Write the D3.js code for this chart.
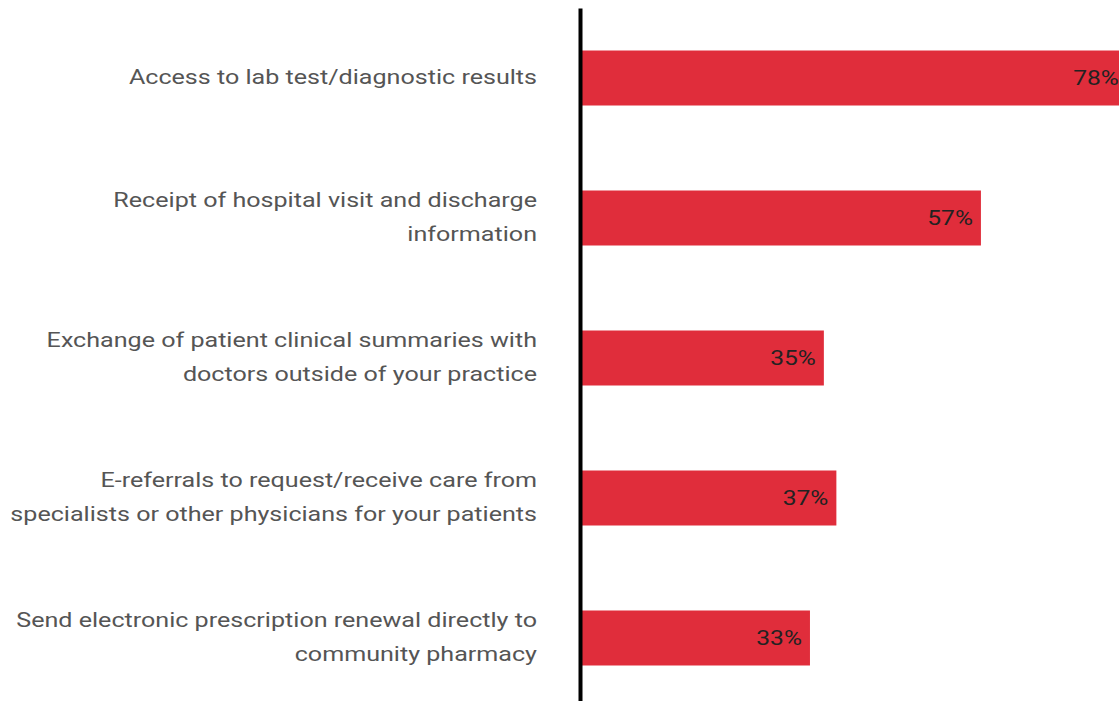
<!DOCTYPE html>
<html>
<head>
<meta charset="utf-8">
<script src="https://cdn.jsdelivr.net/npm/d3@7"></script>
<style>
  html, body { margin: 0; padding: 0; background: #fff; }
  svg { display: block; font-family: Roboto, "Noto Sans", sans-serif; }
</style>
</head>
<body>
<svg id="chart" width="1119" height="701"></svg>
<script>
const categories = [
  "Access to lab test/diagnostic results",
  "Receipt of hospital visit and discharge\ninformation",
  "Exchange of patient clinical summaries with\ndoctors outside of your practice",
  "E-referrals to request/receive care from\nspecialists or other physicians for your patients",
  "Send electronic prescription renewal directly to\ncommunity pharmacy"
];
const values = [78.4, 57.4, 34.8, 36.6, 32.8];
const valueLabels = ["78%", "57%", "35%", "37%", "33%"];

const data = categories.map((c, i) => ({ cat: c, value: values[i], label: valueLabels[i] }));

const svg = d3.select("#chart");
const axisX = 580;
const sx = 1.255; // horizontal stretch of text in the reference

const x = d3.scaleLinear().domain([0, 100]).range([582, 1277]);
const y = d3.scaleBand()
  .domain(categories)
  .range([8, 708])
  .paddingInner(85 / 140)
  .paddingOuter(0.3036);

// bars
svg.append("g").selectAll("rect")
  .data(data)
  .join("rect")
  .attr("x", x(0))
  .attr("y", d => y(d.cat))
  .attr("width", d => x(d.value) - x(0))
  .attr("height", y.bandwidth())
  .attr("fill", "#e02d3b");

// value labels
svg.append("g").selectAll("text")
  .data(data)
  .join("text")
  .attr("transform", d => `translate(${x(d.value) - 8},${y(d.cat) + y.bandwidth() / 2}) scale(1.23,1)`)
  .attr("dy", "0.35em")
  .attr("text-anchor", "end")
  .attr("font-size", 20)
  .attr("fill", "#222")
  .text(d => d.label);

// axis
const axis = d3.axisLeft(y).tickSize(0).tickSizeOuter(0).tickPadding(43);
const gAxis = svg.append("g")
  .attr("transform", `translate(${axisX},0)`)
  .call(axis);
gAxis.select(".domain").attr("stroke", "#000").attr("stroke-width", 4);
gAxis.selectAll(".tick text")
  .attr("font-size", 20)
  .attr("font-family", "Roboto, 'Noto Sans', sans-serif")
  .attr("fill", "#555")
  .attr("transform", `scale(${sx},1)`)
  .each(function(d) {
    const t = d3.select(this);
    const lines = d.split("\n");
    const lh = 34;
    t.text(null);
    lines.forEach((ln, i) => {
      t.append("tspan")
        .attr("x", -43 / sx)
        .attr("dy", i === 0 ? (0.32 * 20 - (lines.length - 1) * lh / 2) + "px" : lh + "px")
        .text(ln);
    });
  });
</script>
</body>
</html>
